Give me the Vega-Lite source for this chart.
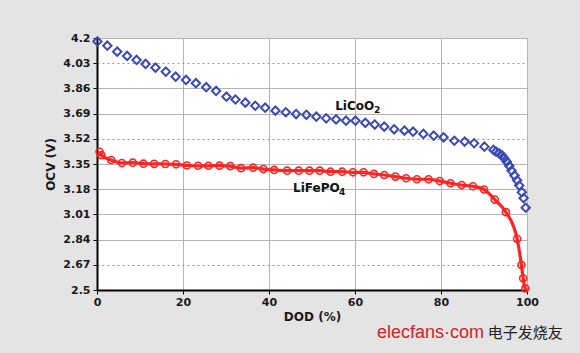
{
  "$schema": "https://vega.github.io/schema/vega-lite/v6.json",
  "width": 430,
  "height": 252,
  "autosize": "none",
  "padding": {"left": 97, "top": 38, "right": 53, "bottom": 63},
  "background": "#e4e4e4",
  "config": {
    "view": {"fill": "#ffffff", "stroke": "#9a9a9a", "strokeWidth": 1},
    "font": "DejaVu Sans"
  },
  "datasets": {
    "licoo2": [
      {"DOD": 0.1, "V": 4.177}, {"DOD": 2.4, "V": 4.148}, {"DOD": 4.7, "V": 4.108}, {"DOD": 7.0, "V": 4.079},
      {"DOD": 9.2, "V": 4.052}, {"DOD": 11.3, "V": 4.025}, {"DOD": 13.6, "V": 4.0}, {"DOD": 16.0, "V": 3.973},
      {"DOD": 18.3, "V": 3.939}, {"DOD": 20.7, "V": 3.917}, {"DOD": 23.0, "V": 3.895}, {"DOD": 25.4, "V": 3.868},
      {"DOD": 27.7, "V": 3.843}, {"DOD": 30.1, "V": 3.804}, {"DOD": 32.2, "V": 3.785}, {"DOD": 34.5, "V": 3.764},
      {"DOD": 36.8, "V": 3.743}, {"DOD": 39.1, "V": 3.73}, {"DOD": 41.5, "V": 3.71}, {"DOD": 43.9, "V": 3.699},
      {"DOD": 46.3, "V": 3.687}, {"DOD": 48.7, "V": 3.682}, {"DOD": 51.0, "V": 3.669}, {"DOD": 53.3, "V": 3.658},
      {"DOD": 55.6, "V": 3.651}, {"DOD": 57.9, "V": 3.642}, {"DOD": 60.1, "V": 3.642}, {"DOD": 62.4, "V": 3.628},
      {"DOD": 64.6, "V": 3.616}, {"DOD": 66.8, "V": 3.602}, {"DOD": 69.1, "V": 3.584}, {"DOD": 71.5, "V": 3.575},
      {"DOD": 73.5, "V": 3.568}, {"DOD": 75.9, "V": 3.553}, {"DOD": 78.3, "V": 3.541}, {"DOD": 80.6, "V": 3.53},
      {"DOD": 83.1, "V": 3.507}, {"DOD": 85.5, "V": 3.501}, {"DOD": 87.7, "V": 3.49}, {"DOD": 90.1, "V": 3.467},
      {"DOD": 92.2, "V": 3.445}, {"DOD": 92.8, "V": 3.433}, {"DOD": 93.5, "V": 3.422}, {"DOD": 94.2, "V": 3.408},
      {"DOD": 94.7, "V": 3.388}, {"DOD": 95.3, "V": 3.366}, {"DOD": 95.9, "V": 3.337}, {"DOD": 96.4, "V": 3.305},
      {"DOD": 97.1, "V": 3.272}, {"DOD": 97.7, "V": 3.24}, {"DOD": 98.2, "V": 3.205}, {"DOD": 98.8, "V": 3.16},
      {"DOD": 99.2, "V": 3.12}, {"DOD": 99.7, "V": 3.055}
    ],
    "lifepo4": [
      {"DOD": 0.6, "V": 3.432}, {"DOD": 1.0, "V": 3.41}, {"DOD": 3.3, "V": 3.377}, {"DOD": 5.8, "V": 3.357},
      {"DOD": 8.3, "V": 3.359}, {"DOD": 10.8, "V": 3.352}, {"DOD": 13.3, "V": 3.351}, {"DOD": 15.9, "V": 3.35},
      {"DOD": 18.4, "V": 3.348}, {"DOD": 20.9, "V": 3.34}, {"DOD": 23.5, "V": 3.338}, {"DOD": 25.9, "V": 3.338},
      {"DOD": 28.5, "V": 3.339}, {"DOD": 31.0, "V": 3.336}, {"DOD": 33.5, "V": 3.322}, {"DOD": 36.3, "V": 3.325},
      {"DOD": 38.7, "V": 3.316}, {"DOD": 41.2, "V": 3.31}, {"DOD": 44.2, "V": 3.305}, {"DOD": 46.9, "V": 3.305},
      {"DOD": 49.4, "V": 3.305}, {"DOD": 51.8, "V": 3.305}, {"DOD": 54.3, "V": 3.298}, {"DOD": 57.0, "V": 3.298},
      {"DOD": 59.5, "V": 3.294}, {"DOD": 62.0, "V": 3.294}, {"DOD": 64.4, "V": 3.283}, {"DOD": 66.8, "V": 3.276},
      {"DOD": 69.4, "V": 3.265}, {"DOD": 71.9, "V": 3.254}, {"DOD": 74.4, "V": 3.247}, {"DOD": 77.1, "V": 3.247},
      {"DOD": 79.7, "V": 3.235}, {"DOD": 82.2, "V": 3.22}, {"DOD": 84.8, "V": 3.208}, {"DOD": 87.4, "V": 3.2},
      {"DOD": 90.0, "V": 3.178}, {"DOD": 92.5, "V": 3.11}, {"DOD": 95.1, "V": 3.025}, {"DOD": 97.7, "V": 2.845},
      {"DOD": 98.7, "V": 2.669}, {"DOD": 99.1, "V": 2.579}, {"DOD": 99.6, "V": 2.511}, {"DOD": 100, "V": 2.5}
    ],
    "labels": [
      {"label": "LiCoO", "DOD": 55.4, "V": 3.742, "kind": "main"},
      {"label": "LiFePO", "DOD": 45.6, "V": 3.186, "kind": "main"},
      {"label": "2", "DOD": 64.4, "V": 3.742, "kind": "sub"},
      {"label": "4", "DOD": 56.3, "V": 3.186, "kind": "sub"}
    ]
  },
  "layer": [
    {
      "data": {"name": "lifepo4"},
      "mark": {"type": "line", "color": "#ff2424", "strokeWidth": 3.2, "interpolate": "monotone"},
      "encoding": {
        "x": {
          "field": "DOD", "type": "quantitative",
          "scale": {"domain": [0, 100], "nice": false, "zero": false},
          "axis": {
            "title": "DOD (%)", "values": [0, 20, 40, 60, 80, 100], "tickCount": 20, "labelFlush": false, "labelOverlap": false,
            "labelFont": "DejaVu Sans", "labelFontWeight": "bold", "labelFontSize": 11, "labelColor": "#1a1a1a",
            "titleFont": "DejaVu Sans", "titleFontWeight": "bold", "titleFontSize": 12, "titleColor": "#1a1a1a",
            "titlePadding": 4, "labelPadding": 2, "tickSize": 4, "tickColor": "#000000",
            "domainColor": "#000000", "domainWidth": 2,
            "grid": true, "gridColor": "#b4b4b4", "gridWidth": 1
          }
        },
        "y": {
          "field": "V", "type": "quantitative",
          "scale": {"domain": [2.5, 4.2], "nice": false, "zero": false},
          "axis": {
            "title": "OCV (V)", "values": [2.5, 2.67, 2.84, 3.01, 3.18, 3.35, 3.52, 3.69, 3.86, 4.03, 4.2], "tickCount": 20,
            "format": ".2~f", "labelFlush": false, "labelOverlap": false,
            "labelFont": "DejaVu Sans", "labelFontWeight": "bold", "labelFontSize": 11, "labelColor": "#1a1a1a",
            "titleFont": "DejaVu Sans", "titleFontWeight": "bold", "titleFontSize": 12, "titleColor": "#1a1a1a",
            "titlePadding": 5, "labelPadding": 3, "tickSize": 4, "tickColor": "#000000",
            "domainColor": "#000000", "domainWidth": 2,
            "grid": true,
            "gridColor": {"condition": {"test": "datum.value == 2.67 || datum.value == 3.52 || datum.value == 4.03", "value": "#8a90c8"}, "value": "#b4b4b4"},
            "gridDash": {"condition": {"test": "datum.value == 2.67 || datum.value == 3.52 || datum.value == 4.03", "value": [2, 3]}, "value": []},
            "gridWidth": 1
          }
        }
      }
    },
    {
      "data": {"name": "lifepo4"},
      "transform": [{"filter": "datum.DOD < 100"}],
      "mark": {"type": "point", "shape": "circle", "filled": false, "color": "#ff2424", "size": 50, "strokeWidth": 1.6, "opacity": 1},
      "encoding": {
        "x": {"field": "DOD", "type": "quantitative"},
        "y": {"field": "V", "type": "quantitative"}
      }
    },
    {
      "data": {"name": "licoo2"},
      "mark": {"type": "point", "shape": "diamond", "filled": false, "color": "#3a4ab4", "size": 70, "strokeWidth": 2, "opacity": 1},
      "encoding": {
        "x": {"field": "DOD", "type": "quantitative"},
        "y": {"field": "V", "type": "quantitative"}
      }
    },
    {
      "data": {"name": "labels"},
      "transform": [{"filter": "datum.kind == 'main'"}],
      "mark": {"type": "text", "align": "left", "baseline": "middle", "font": "DejaVu Sans", "fontWeight": "bold", "fontSize": 12, "color": "#111111"},
      "encoding": {
        "x": {"field": "DOD", "type": "quantitative"},
        "y": {"field": "V", "type": "quantitative"},
        "text": {"field": "label"}
      }
    },
    {
      "data": {"name": "labels"},
      "transform": [{"filter": "datum.kind == 'sub'"}],
      "mark": {"type": "text", "align": "left", "baseline": "middle", "font": "DejaVu Sans", "fontWeight": "bold", "fontSize": 9, "dy": 4, "color": "#111111"},
      "encoding": {
        "x": {"field": "DOD", "type": "quantitative"},
        "y": {"field": "V", "type": "quantitative"},
        "text": {"field": "label"}
      }
    },
    {
      "data": {"values": [{"label": "elecfans·com", "DOD": 65.1, "V": 2.208}]},
      "mark": {"type": "text", "align": "left", "baseline": "middle", "font": "Liberation Sans", "fontSize": 18, "color": "#d4202a"},
      "encoding": {
        "x": {"field": "DOD", "type": "quantitative"},
        "y": {"field": "V", "type": "quantitative"},
        "text": {"field": "label"}
      }
    },
    {
      "data": {"values": [{"label": "电子发烧友", "DOD": 90.9, "V": 2.208}]},
      "mark": {"type": "text", "align": "left", "baseline": "middle", "font": "Noto Sans CJK SC", "fontSize": 15, "color": "#222222"},
      "encoding": {
        "x": {"field": "DOD", "type": "quantitative"},
        "y": {"field": "V", "type": "quantitative"},
        "text": {"field": "label"}
      }
    }
  ]
}
